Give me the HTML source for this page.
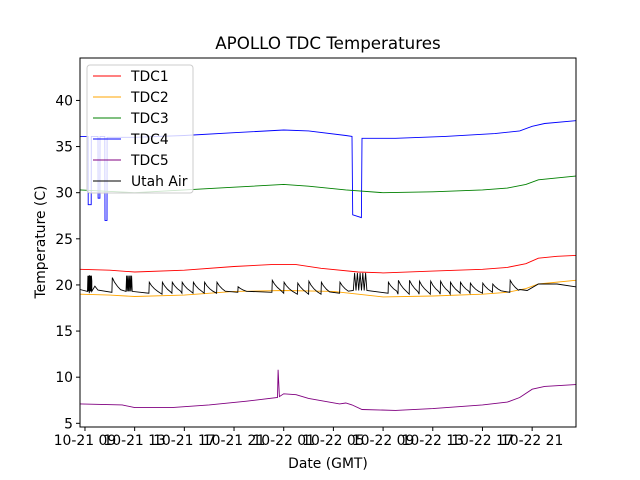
<!DOCTYPE html>
<html><head><meta charset="utf-8"><style>
body{margin:0;background:#fff}
svg{display:block;font-family:"DejaVu Sans","Liberation Sans",sans-serif}
</style></head><body>
<svg id="chart" width="640" height="480">
<text x="328" y="49" text-anchor="middle" font-size="16.7">APOLLO TDC Temperatures</text>
<text x="328" y="468" text-anchor="middle" font-size="13.9">Date (GMT)</text>
<text transform="translate(45,242) rotate(-90)" text-anchor="middle" font-size="13.9">Temperature (C)</text>
<g id="series"></g>
<g id="axes"></g>
<rect x="80" y="58" width="496" height="369" fill="none" stroke="#000" stroke-width="1"/>
<g id="legend"></g>
</svg>
<script>
const xTickHours=[0,4,8,12,16,20,24,28,32,36];
const xTickLabels=["10-21 09","10-21 13","10-21 17","10-21 21","10-22 01","10-22 05","10-22 09","10-22 13","10-22 17","10-22 21"];
const yTicks=[5,10,15,20,25,30,35,40];
const seriesNames=["TDC1","TDC2","TDC3","TDC4","TDC5","Utah Air"];
const seriesColors=["red","orange","green","blue","purple","black"];
const tdc1T=[-0.4,2,4,8,12,15,17,19,22,24,28,32,34,35.5,36.5,38,39.5];
const tdc1V=[21.7,21.6,21.4,21.6,22.0,22.2,22.2,21.8,21.4,21.3,21.5,21.7,21.9,22.3,22.9,23.1,23.2];
const tdc2T=[-0.4,2,4,8,12,16,20,22,24,28,32,34,35.5,36.5,39.5];
const tdc2V=[19.0,18.9,18.75,18.9,19.3,19.4,19.3,19.0,18.7,18.8,19.0,19.2,19.6,20.1,20.5];
const tdc3T=[-0.4,4,8,12,16,18,21,24,28,32,34,35.5,36.5,39.5];
const tdc3V=[30.3,30.0,30.3,30.6,30.9,30.7,30.3,30.0,30.1,30.3,30.5,30.9,31.4,31.8];
const tdc4T=[-0.4,0.25,0.26,0.5,0.51,1.05,1.06,1.2,1.21,1.6,1.61,1.77,1.78,4,8,12,16,18,21,21.5,21.55,22.25,22.3,22.5,25,29,33,35,36,37,39.5];
const tdc4V=[36.1,36.1,28.7,28.7,36.1,36.1,29.4,29.4,36.1,36.1,27.0,27.0,36.0,36.0,36.2,36.5,36.8,36.7,36.2,36.1,27.6,27.3,35.9,35.9,35.9,36.1,36.4,36.7,37.2,37.5,37.8];
const tdc5T=[-0.4,3,4,7,10,13,15.5,15.55,15.65,16,17,18,20.5,21,21.5,22.3,25,28,32,34,35,36,37,39.5];
const tdc5V=[7.1,7.0,6.7,6.7,7.0,7.4,7.8,10.8,7.9,8.2,8.1,7.7,7.1,7.2,7.0,6.5,6.4,6.6,7.0,7.3,7.8,8.7,9.0,9.2];
const airSpikeHours=[0.35,2.17,5.15,6.2,7.0,7.8,8.7,9.6,10.6,12.3,15.05,16.0,17.1,18.0,19.0,20.5,24.4,25.2,26.1,26.9,27.8,28.6,29.4,30.2,31.0,32.0,32.8,34.2];
const airSpikePeaks=[21.0,20.8,20.3,20.3,20.3,20.3,20.3,20.3,20.3,19.8,20.5,20.3,20.2,20.4,20.3,20.3,20.3,20.5,20.5,20.4,20.4,20.4,20.3,20.3,20.2,20.2,20.1,20.5];
const airSpikeTroughs=[19.1,19.2,19.1,19.0,19.1,19.1,19.1,19.1,19.1,19.2,19.2,19.1,19.0,19.0,19.0,19.1,19.1,19.0,19.0,19.0,19.0,19.0,19.0,19.1,19.1,19.1,19.2,19.2];
const airBurstStart=[0.2,3.3,21.6];
const airBurstEnd=[0.55,3.8,22.7];
const airBurstLow=[19.3,19.3,19.4];
const airBurstHigh=[21.0,21.0,21.3];
const airTailT=[35.0,35.6,36.5,38,39.5];
const airTailV=[19.5,19.4,20.1,20.1,19.8];
const airStartV=19.5;

const X0=80,X1=576,Y0=58,Y1=427,HMIN=-0.4,HMAX=39.53,VMIN=4.6,VMAX=44.6;
const sx=h=>X0+(h-HMIN)/(HMAX-HMIN)*(X1-X0);
const sy=v=>Y1-(v-VMIN)/(VMAX-VMIN)*(Y1-Y0);
const NS="http://www.w3.org/2000/svg";
const mk=(t,a,p)=>{const e=document.createElementNS(NS,t);for(const k in a)e.setAttribute(k,a[k]);p.appendChild(e);return e;};
const axes=document.getElementById('axes'),ser=document.getElementById('series'),leg=document.getElementById('legend');
xTickHours.forEach((h,i)=>{
 const l=mk('line',{x1:sx(h),x2:sx(h),y1:Y1,y2:Y1+4,stroke:'#000'},axes);
 
 
 const t=mk('text',{x:sx(h),y:Y1+18,'text-anchor':'middle','font-size':13.9},axes);
 t.textContent=xTickLabels[i];
 
 
});
yTicks.forEach(v=>{
 const l=mk('line',{x1:X0-4,x2:X0,y1:sy(v),y2:sy(v),stroke:'#000'},axes);
 
 
 const t=mk('text',{x:X0-7,y:sy(v)+5,'text-anchor':'end','font-size':13.9},axes);
 t.textContent=v;
 
 
});
function poly(T,V,color,name){
 const pts=T.map((t,i)=>sx(t).toFixed(1)+','+sy(V[i]).toFixed(1)).join(' ');
 const p=mk('polyline',{points:pts,fill:'none',stroke:color,'stroke-width':0.9},ser);
 
 
}
poly(tdc4T,tdc4V,'blue','tdc4-line');
poly(tdc3T,tdc3V,'green','tdc3-line');
poly(tdc1T,tdc1V,'red','tdc1-line');
poly(tdc2T,tdc2V,'orange','tdc2-line');
poly(tdc5T,tdc5V,'purple','tdc5-line');
// Utah air
const aT=[HMIN],aV=[airStartV];
function addBurst(b){
 aT.push(airBurstStart[b]);aV.push(airBurstLow[b]);
 const n=10;for(let k=1;k<=n;k++){aT.push(airBurstStart[b]+(airBurstEnd[b]-airBurstStart[b])*k/n);aV.push(k%2?airBurstHigh[b]:airBurstLow[b]);}
}
let bi=0;
airSpikeHours.forEach((h,i)=>{
 while(bi<airBurstStart.length&&airBurstStart[bi]<h-0.3){addBurst(bi);bi++;}
 const p=airSpikePeaks[i],tr=airSpikeTroughs[i];
 aT.push(h);aV.push(tr);
 aT.push(h+0.03);aV.push(p);
 aT.push(h+0.2);aV.push(tr+(p-tr)*0.7);
 aT.push(h+0.45);aV.push(tr+(p-tr)*0.4);
 aT.push(h+0.7);aV.push(tr+(p-tr)*0.18);
});
while(bi<airBurstStart.length){addBurst(bi);bi++;}
const order=aT.map((t,i)=>i).sort((a,b)=>aT[a]-aT[b]);
const sT=order.map(i=>aT[i]),sV=order.map(i=>aV[i]);
poly(sT.concat(airTailT),sV.concat(airTailV),'black','utah-air-line');
// legend
const lb=mk('rect',{x:87,y:65,width:106,height:128,rx:3,fill:'rgba(255,255,255,0.8)',stroke:'#ccc'},leg);


seriesNames.forEach((n,i)=>{
 const y=76+i*21;
 const l=mk('line',{x1:93,x2:121,y1:y,y2:y,stroke:seriesColors[i],'stroke-width':0.9},leg);
 
 
 const t=mk('text',{x:131,y:y+5,'font-size':13.9},leg);
 t.textContent=n;
 
 
});
</script>
</body></html>
